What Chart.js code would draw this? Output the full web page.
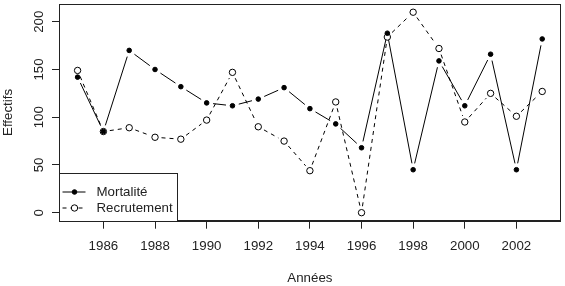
<!DOCTYPE html>
<html>
<head>
<meta charset="utf-8">
<script src="https://cdn.jsdelivr.net/npm/chart.js@4/dist/chart.umd.min.js"></script>
<style>
body{margin:0;background:#fff;}
</style>
</head>
<body>
<canvas id="grafik" width="565" height="286"></canvas>
<script>

// =========================
// DONNEES
// =========================

let annees = [1985,1986,1987,1988,1989,1990,1991,1992,1993,1994,1995,1996,1997,1998,1999,2000,2001,2002,2003];

let mortalite = [142,85,170,150,132,115,112,119,131,109,93,68,188,45,159,112,166,45,182];
let recrutement = [149,85,89,79,77,97,147,90,75,44,116,0,184,210,172,95,125,101,127];

let ticksX = [1986,1988,1990,1992,1994,1996,1998,2000,2002];
let ticksY = [0,50,100,150,200];

let police = "'Liberation Sans', Arial, sans-serif";
let taille = 13.3;


function paires(valeurs){
return valeurs.map(function(v,i){
return {x:annees[i],y:v};
});
}


// =========================
// TYPE "b" : LIGNES AVEC ESPACE AUTOUR DES POINTS
// =========================

let lignesB = {
id:'lignesB',
beforeDatasetsDraw:function(chart){
let ctx = chart.ctx;
let gap = 6.5;
chart.data.datasets.forEach(function(ds,i){
let pts = chart.getDatasetMeta(i).data;
ctx.save();
ctx.strokeStyle = '#000';
ctx.lineWidth = 1;
ctx.setLineDash(ds.tirets || []);
for(let k=0;k<pts.length-1;k++){
let a = pts[k], b = pts[k+1];
let dx = b.x-a.x, dy = b.y-a.y;
let d = Math.sqrt(dx*dx+dy*dy);
if(d <= 2*gap) continue;
let ux = dx/d, uy = dy/d;
ctx.beginPath();
ctx.moveTo(a.x+ux*gap, a.y+uy*gap);
ctx.lineTo(b.x-ux*gap, b.y-uy*gap);
ctx.stroke();
}
ctx.restore();
});
}
};


// =========================
// CADRE, ETIQUETTES Y, LEGENDE
// =========================

let cadre = {
id:'cadre',
afterDraw:function(chart){
let ctx = chart.ctx;
let a = chart.chartArea;
let y = chart.scales.y;

ctx.save();
ctx.strokeStyle = '#222';
ctx.lineWidth = 1;
ctx.setLineDash([]);
ctx.strokeRect(Math.round(a.left)+0.5, Math.round(a.top)+0.5, Math.round(a.right-a.left)-1, Math.round(a.bottom-a.top));

// etiquettes de l'axe y, tournees
ctx.fillStyle = '#222';
ctx.font = taille+"px "+police;
ctx.textAlign = 'center';
ctx.textBaseline = 'middle';
ticksY.forEach(function(v){
ctx.save();
ctx.translate(39.5, y.getPixelForValue(v));
ctx.rotate(-Math.PI/2);
ctx.fillText(String(v),0,0);
ctx.restore();
});

// legende en bas a gauche
let lx = Math.round(a.left)+0.5;
let lb = Math.round(a.bottom)+0.5;
let lw = 118, lh = 48;
ctx.fillStyle = '#fff';
ctx.fillRect(lx, lb-lh, lw, lh);
ctx.strokeStyle = '#222';
ctx.strokeRect(lx, lb-lh, lw, lh);

chart.data.datasets.forEach(function(ds,i){
let ry = lb-lh+18.5+i*16;
ctx.save();
ctx.strokeStyle = '#000';
ctx.setLineDash(ds.tirets || []);
ctx.beginPath();
ctx.moveTo(lx+3, ry);
ctx.lineTo(lx+26, ry);
ctx.stroke();
ctx.restore();

ctx.beginPath();
ctx.arc(lx+15, ry, ds.pointRadius, 0, Math.PI*2);
ctx.fillStyle = ds.pointBackgroundColor;
ctx.fill();
ctx.strokeStyle = '#000';
ctx.stroke();

ctx.fillStyle = '#222';
ctx.textAlign = 'left';
ctx.fillText(ds.label, lx+37, ry);
});

ctx.restore();
}
};


// =========================
// GRAPHIQUE
// =========================

let ctx1 = document.getElementById('grafik');

new Chart(ctx1,{
type:'line',
data:{
datasets:[{
label:'Mortalité',
data:paires(mortalite),
showLine:false,
pointRadius:2.3,
pointHoverRadius:2.3,
pointBackgroundColor:'#000',
pointBorderColor:'#000',
pointBorderWidth:1,
tirets:[]
},{
label:'Recrutement',
data:paires(recrutement),
showLine:false,
pointRadius:3.2,
pointHoverRadius:3.2,
pointBackgroundColor:'#fff',
pointBorderColor:'#000',
pointBorderWidth:1,
tirets:[4,4]
}]
},
options:{
responsive:false,
animation:false,
events:[],
layout:{padding:{top:4,right:2,left:0,bottom:0}},
plugins:{
legend:{display:false},
tooltip:{enabled:false}
},
scales:{
x:{
type:'linear',
position:'bottom',
min:1984.28,
max:2003.72,
afterBuildTicks:function(s){
s.ticks = ticksX.map(function(v){return {value:v};});
},
afterFit:function(s){
s.height = 65.3;
},
ticks:{
color:'#222',
font:{family:police,size:taille},
padding:10,
maxRotation:0,
autoSkip:false,
callback:function(v){return String(v);}
},
grid:{
drawOnChartArea:false,
drawTicks:true,
tickLength:8,
color:'#222'
},
border:{display:true,color:'#222'},
title:{
display:true,
text:'Années',
color:'#222',
font:{family:police,size:taille},
padding:{top:0,bottom:0}
}
},
y:{
type:'linear',
position:'left',
min:-8.4,
max:218.4,
afterBuildTicks:function(s){
s.ticks = ticksY.map(function(v){return {value:v};});
},
afterFit:function(s){
s.width = 59;
},
ticks:{display:false},
grid:{
drawOnChartArea:false,
drawTicks:true,
tickLength:7,
color:'#222'
},
border:{display:true,color:'#222'},
title:{
display:true,
text:'Effectifs',
color:'#222',
font:{family:police,size:taille},
padding:{top:0,bottom:0}
}
}
}
},
plugins:[lignesB,cadre]
});

</script>
</body>
</html>
